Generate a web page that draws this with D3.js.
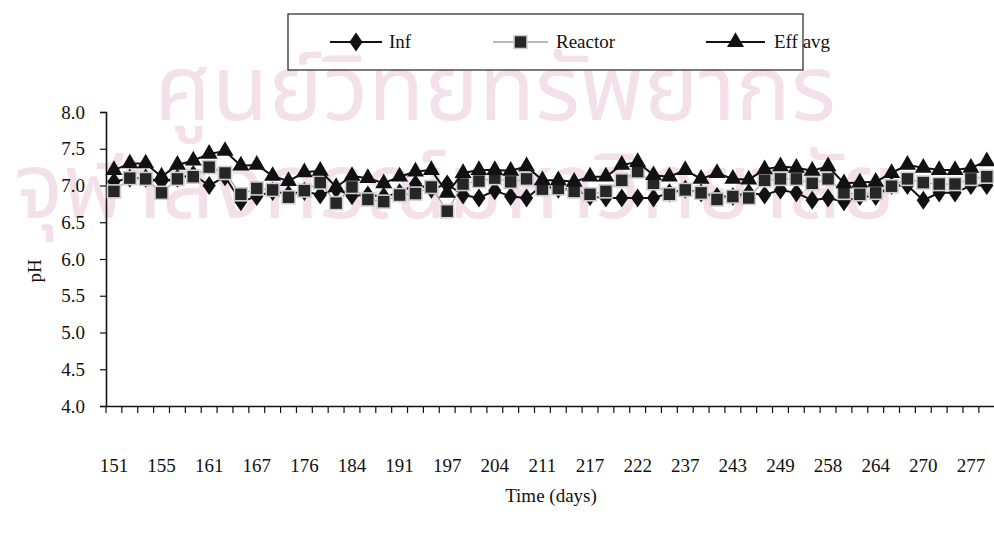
<!DOCTYPE html>
<html>
<head>
<meta charset="utf-8">
<script src="https://cdn.jsdelivr.net/npm/d3@7/dist/d3.min.js"></script>
<style>
  html, body { margin: 0; padding: 0; background: #fff; }
  svg { display: block; }
  text { font-family: "Liberation Serif", "Times New Roman", serif; fill: #111; }
</style>
</head>
<body>
<svg id="chart" width="994" height="536"></svg>
<script>
// Day labels shown under every third sampling point
const tickLabels = [151, 155, 161, 167, 176, 184, 191, 197, 204, 211, 217, 222, 237, 243, 249, 258, 264, 270, 277];

// pH readings per sampling point
const infPH = [7.05, 7.10, 7.10, 7.05, 7.10, 7.15, 7.00, 7.12, 6.78, 6.85,
               6.92, 6.88, 6.92, 6.87, 6.95, 6.86, 6.87, 6.85, 6.90, 7.02,
               6.95, 7.02, 6.87, 6.83, 6.93, 6.85, 6.83, 7.00, 6.95, 6.95,
               6.85, 6.83, 6.83, 6.83, 6.83, 6.90, 6.95, 6.90, 6.85, 6.85,
               6.90, 6.87, 6.94, 6.90, 6.80, 6.83, 6.78, 6.85, 6.85, 7.00,
               7.00, 6.80, 6.90, 6.90, 7.00, 7.00];
const reactorPH = [6.92, 7.10, 7.09, 6.90, 7.09, 7.12, 7.25, 7.17, 6.88, 6.96,
                   6.94, 6.84, 6.93, 7.04, 6.76, 6.98, 6.81, 6.78, 6.87, 6.89,
                   6.98, 6.65, 7.02, 7.06, 7.10, 7.05, 7.09, 6.95, 6.96, 6.92,
                   6.88, 6.92, 7.07, 7.19, 7.03, 6.88, 6.94, 6.90, 6.81, 6.85,
                   6.83, 7.07, 7.09, 7.09, 7.03, 7.09, 6.90, 6.88, 6.90, 6.99,
                   7.09, 7.04, 7.02, 7.02, 7.09, 7.12];
const effAvgPH = [7.21, 7.30, 7.30, 7.12, 7.28, 7.34, 7.43, 7.47, 7.27, 7.28,
                  7.13, 7.06, 7.18, 7.20, 6.98, 7.13, 7.10, 7.03, 7.12, 7.19,
                  7.21, 6.90, 7.17, 7.21, 7.21, 7.20, 7.26, 7.07, 7.07, 7.05,
                  7.12, 7.12, 7.28, 7.32, 7.14, 7.12, 7.21, 7.09, 7.17, 7.09,
                  7.08, 7.22, 7.26, 7.24, 7.20, 7.26, 7.03, 7.04, 7.05, 7.17,
                  7.28, 7.24, 7.21, 7.21, 7.24, 7.33];

const yTicks = [4.0, 4.5, 5.0, 5.5, 6.0, 6.5, 7.0, 7.5, 8.0];
const seriesNames = ["Inf", "Reactor", "Eff avg"];

const svg = d3.select("#chart");

// faint library stamp behind the plot
const stamp = svg.append("g").attr("class", "stamp");
stamp.append("text").attr("x", 495).attr("y", 120).attr("text-anchor", "middle")
  .style("font-family", "'Noto Sans Thai', 'Noto Sans', 'DejaVu Sans', sans-serif")
  .style("font-size", "92px").style("fill", "#f4e0ea").text("ศูนย์วิทยทรัพยากร");
stamp.append("text").attr("x", 455).attr("y", 218).attr("text-anchor", "middle")
  .style("font-family", "'Noto Sans Thai', 'Noto Sans', 'DejaVu Sans', sans-serif")
  .style("font-size", "92px").style("fill", "#f4e0ea").text("จุฬาลงกรณ์มหาวิทยาลัย");

const plotLeft = 106, plotBottom = 406, plotTop = 112;
const n = infPH.length;
const step = 15.87;

const x = d3.scaleBand().domain(d3.range(n)).range([plotLeft, plotLeft + n * step]).padding(0);
const y = d3.scaleLinear().domain([4, 8]).range([plotBottom, plotTop]);
const cx = i => x(i) + x.bandwidth() / 2;

// y axis
const yAxis = svg.append("g").attr("transform", `translate(${plotLeft},0)`)
  .call(d3.axisLeft(y).tickValues(yTicks).tickFormat(d3.format(".1f")).tickSize(6).tickPadding(15));
yAxis.select(".domain").attr("stroke", "#111").attr("stroke-width", 1.6);
yAxis.selectAll(".tick line").attr("stroke", "#111").attr("stroke-width", 1.2);
yAxis.selectAll(".tick text").style("font-size", "19px").style("font-family", "'Liberation Serif', serif");

// x axis
const xAxis = svg.append("g").attr("transform", `translate(0,${plotBottom})`)
  .call(d3.axisBottom(x).tickSize(0).tickFormat(i => i % 3 === 0 ? tickLabels[i / 3] : ""));
xAxis.select(".domain").attr("stroke", "#111").attr("stroke-width", 1.6);
xAxis.selectAll(".tick text").attr("dy", 0).attr("y", 66)
  .style("font-size", "19px").style("font-family", "'Liberation Serif', serif");
// category boundary ticks
xAxis.selectAll("line.bound").data(d3.range(n + 1)).enter().append("line")
  .attr("class", "bound")
  .attr("x1", i => plotLeft + i * x.step()).attr("x2", i => plotLeft + i * x.step())
  .attr("y1", 0).attr("y2", 7).attr("stroke", "#111").attr("stroke-width", 1.2);

// axis titles
svg.append("text").attr("transform", "translate(41,271) rotate(-90)")
  .attr("text-anchor", "middle").style("font-size", "19px").text("pH");
svg.append("text").attr("x", 551).attr("y", 502)
  .attr("text-anchor", "middle").style("font-size", "19px").text("Time (days)");

const line = d3.line().x((d, i) => cx(i)).y(d => y(d));
const plot = svg.append("g");

// Inf: black line with diamonds
plot.append("path").datum(infPH).attr("d", line)
  .attr("fill", "none").attr("stroke", "#111").attr("stroke-width", 2);
const diamond = d3.symbol().type(d3.symbolDiamond).size(105);
plot.selectAll("path.inf").data(infPH).enter().append("path")
  .attr("class", "inf").attr("d", diamond)
  .attr("transform", (d, i) => `translate(${cx(i)},${y(d)}) scale(1.2,1)`)
  .attr("fill", "#111");

// Reactor: thin grey line with grey-edged squares
plot.append("path").datum(reactorPH).attr("d", line)
  .attr("fill", "none").attr("stroke", "#999").attr("stroke-width", 1.2);
plot.selectAll("rect.reactor").data(reactorPH).enter().append("rect")
  .attr("class", "reactor")
  .attr("x", (d, i) => cx(i) - 6.5).attr("y", d => y(d) - 6.5)
  .attr("width", 13).attr("height", 13)
  .attr("fill", "#262626").attr("stroke", "#cfcfcf").attr("stroke-width", 1.6);

// Eff avg: black line with triangles
plot.append("path").datum(effAvgPH).attr("d", line)
  .attr("fill", "none").attr("stroke", "#111").attr("stroke-width", 2);
const tri = d3.symbol().type(d3.symbolTriangle).size(125);
plot.selectAll("path.eff").data(effAvgPH).enter().append("path")
  .attr("class", "eff").attr("d", tri)
  .attr("transform", (d, i) => `translate(${cx(i)},${y(d)})`)
  .attr("fill", "#111");

// legend
const lg = svg.append("g");
lg.append("rect").attr("x", 288).attr("y", 14).attr("width", 515).attr("height", 56)
  .attr("fill", "none").attr("stroke", "#222").attr("stroke-width", 1.2);
const legendItems = [
  { name: seriesNames[0], x0: 330, x1: 382, tx: 389 },
  { name: seriesNames[1], x0: 493, x1: 548, tx: 556 },
  { name: seriesNames[2], x0: 706, x1: 765, tx: 774 }
];
legendItems.forEach((it, k) => {
  const mx = (it.x0 + it.x1) / 2, my = 42;
  lg.append("line").attr("x1", it.x0).attr("x2", it.x1).attr("y1", my).attr("y2", my)
    .attr("stroke", k === 1 ? "#777" : "#111").attr("stroke-width", k === 1 ? 1.2 : 2);
  if (k === 0) {
    lg.append("path").attr("d", diamond).attr("transform", `translate(${mx},${my}) scale(1.2,1)`).attr("fill", "#111");
  } else if (k === 1) {
    lg.append("rect").attr("x", mx - 6.5).attr("y", my - 6.5).attr("width", 13).attr("height", 13)
      .attr("fill", "#262626").attr("stroke", "#cfcfcf").attr("stroke-width", 1.6);
  } else {
    lg.append("path").attr("d", tri).attr("transform", `translate(${mx},${my})`).attr("fill", "#111");
  }
  lg.append("text").attr("x", it.tx).attr("y", my + 6).style("font-size", "19px").text(it.name);
});
</script>
</body>
</html>
